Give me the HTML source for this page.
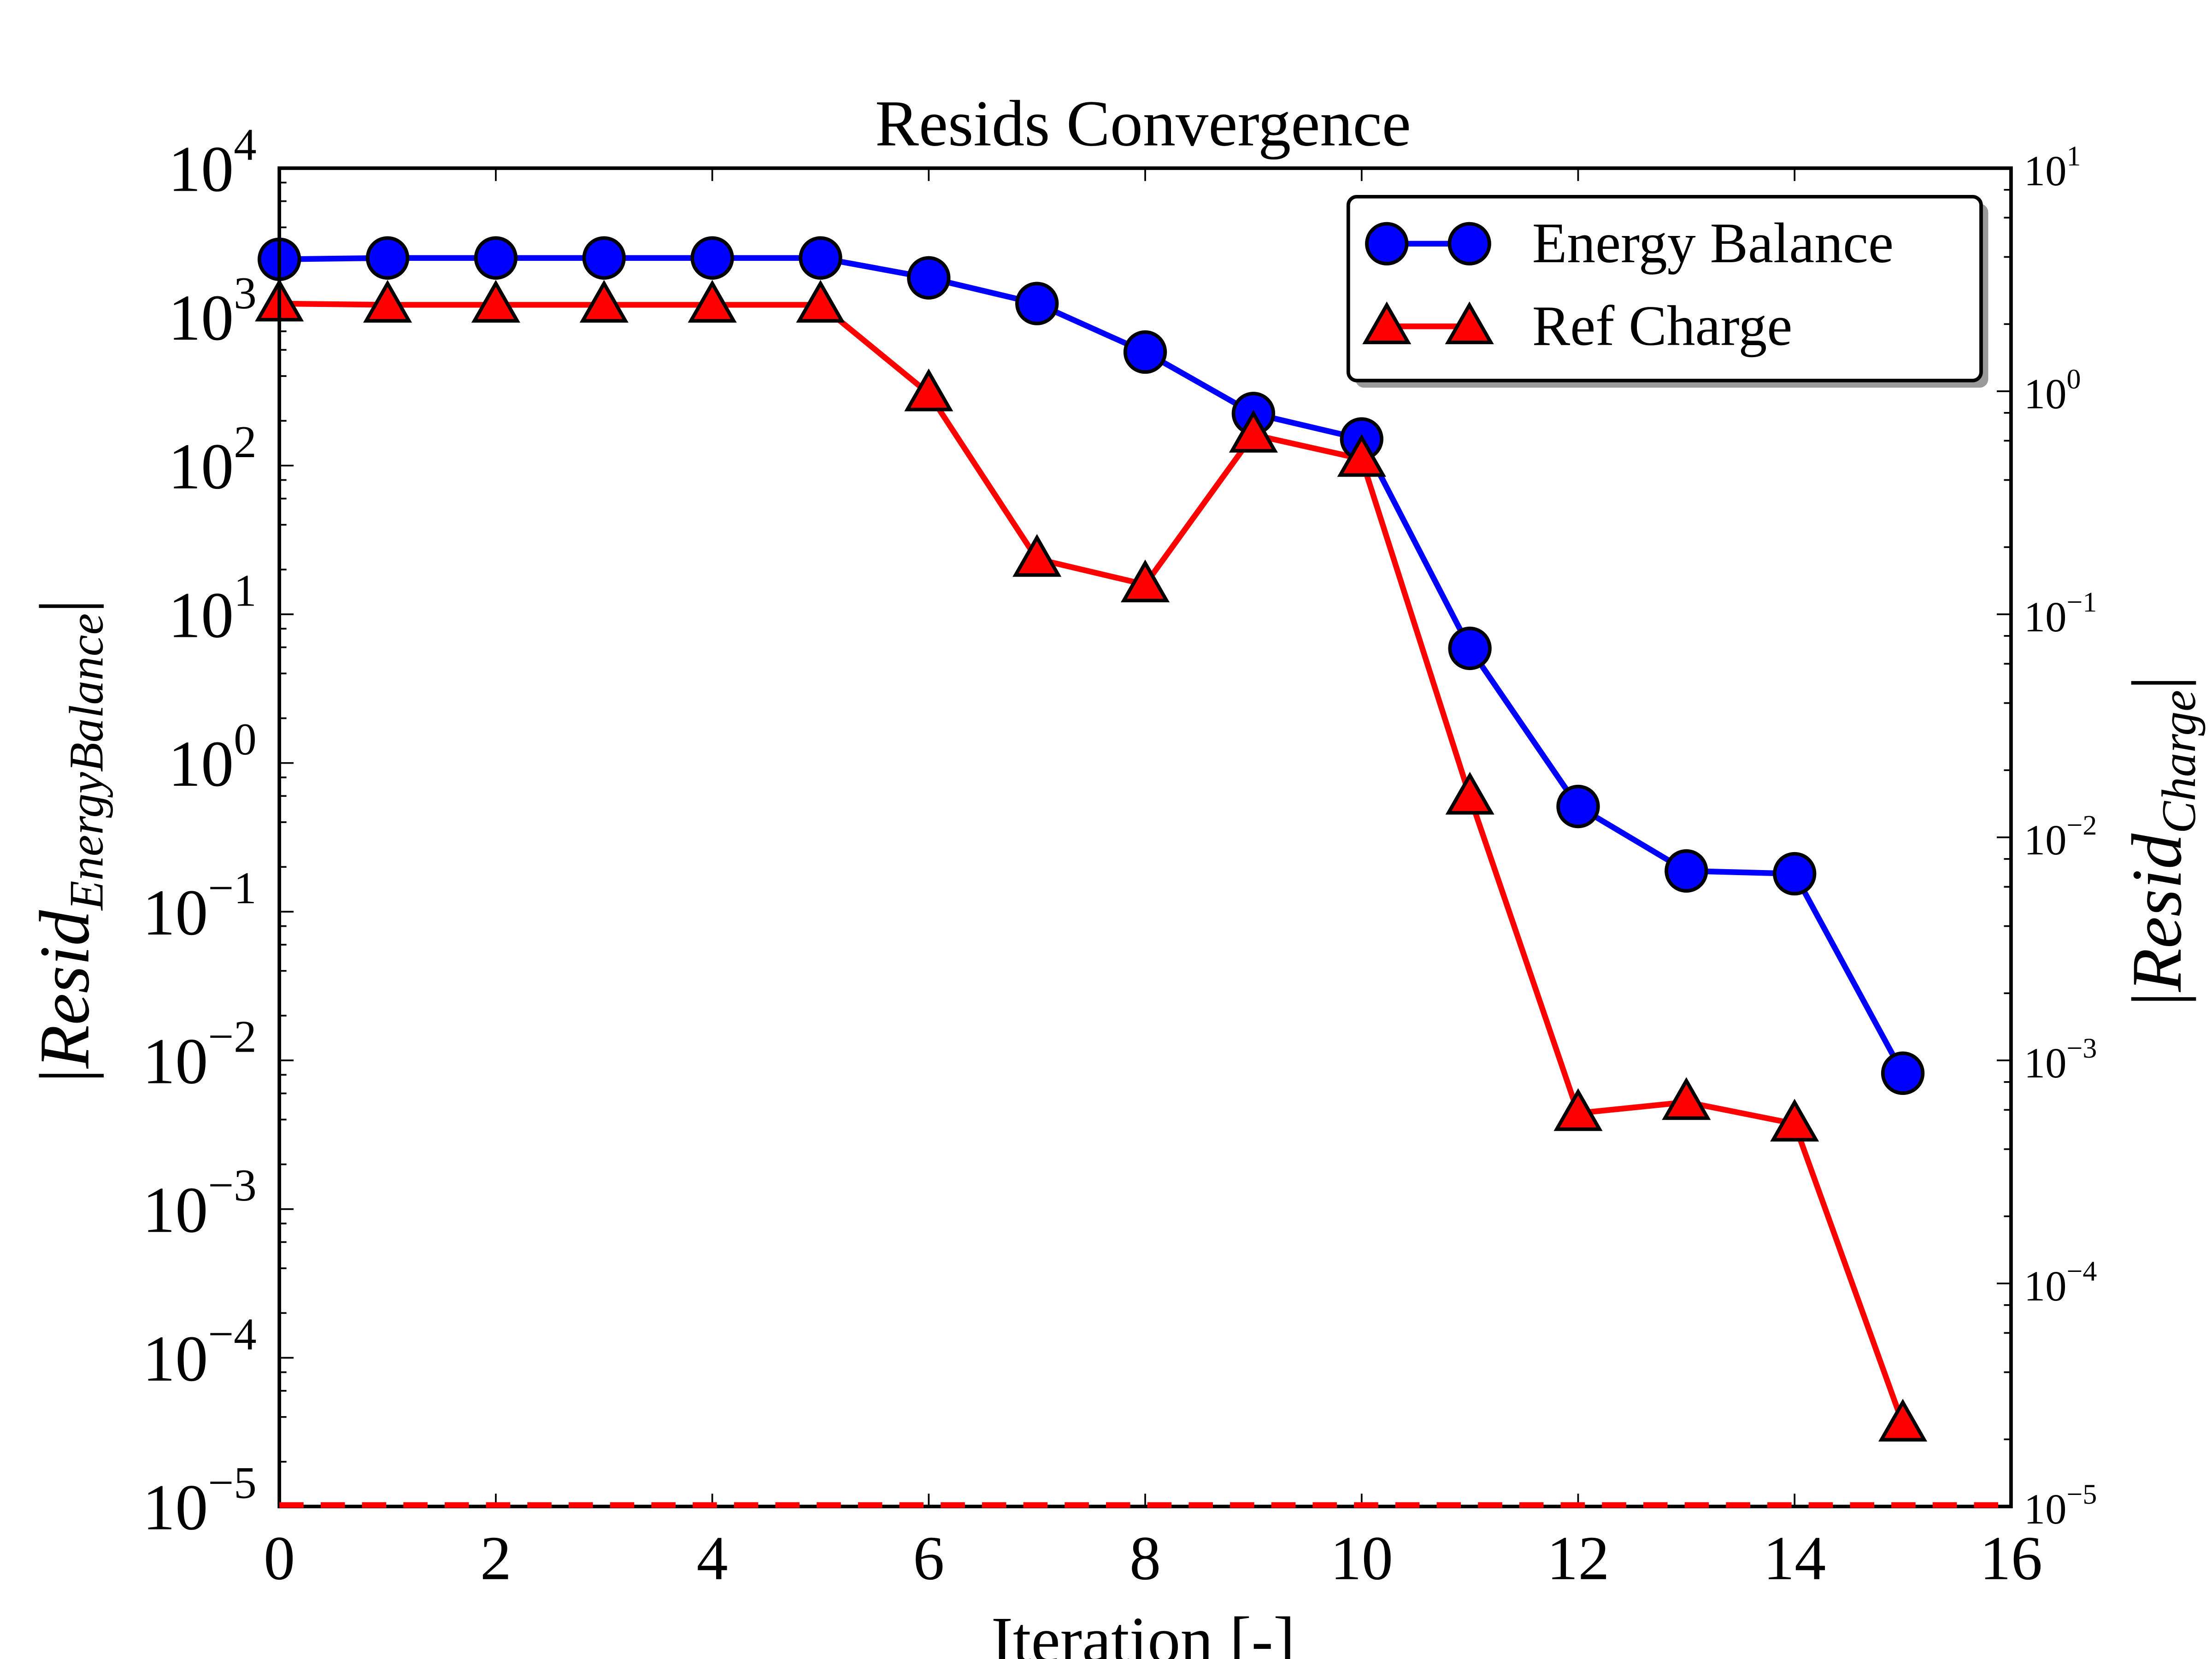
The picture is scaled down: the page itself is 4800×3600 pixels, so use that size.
<!DOCTYPE html>
<html><head><meta charset="utf-8"><style>
html,body{margin:0;padding:0;background:#fff;}
svg{display:block;}
text{font-family:"Liberation Serif",serif;fill:#000;}
</style></head><body>
<svg id="chart" width="4800" height="3600" viewBox="0 0 1552 1164" xmlns="http://www.w3.org/2000/svg">
<rect width="1552" height="1164" fill="#fff"/>
</svg>
<script>
const iterations=[0,1,2,3,4,5,6,7,8,9,10,11,12,13,14,15];
const energyBalance=[2440,2490,2490,2490,2490,2490,1830,1230,580,224,151,5.9,0.51,0.188,0.18,0.0082];
const refCharge=[2.47,2.44,2.44,2.44,2.44,2.44,0.977,0.177,0.136,0.638,0.497,0.0152,0.00058,0.00065,0.00052,0.0000235];
const xTicks=[0,2,4,6,8,10,12,14,16];
const leftExps=[4,3,2,1,0,-1,-2,-3,-4,-5];
const rightExps=[1,0,-1,-2,-3,-4,-5];
const refLine=[0.00001];

const NS='http://www.w3.org/2000/svg';
const svg=document.getElementById('chart');
const L=196,R=1411,T=118,B=1057;
const xS=v=>L+(v-0)/(16-0)*(R-L);
const yL=v=>T+(4-Math.log10(v))/9*(B-T);
const yR=v=>T+(1-Math.log10(v))/6*(B-T);
function mk(tag,attrs,parent){const e=document.createElementNS(NS,tag);for(const k in attrs)e.setAttribute(k,attrs[k]);(parent||svg).appendChild(e);return e;}

let t=mk('text',{x:802,y:102,'text-anchor':'middle','font-size':46});


t.textContent='Resids Convergence';

const tg=mk('g',{stroke:'#000','stroke-width':1.2});


xTicks.forEach(v=>{const x=xS(v);mk('line',{x1:x,y1:B,x2:x,y2:B-9},tg);mk('line',{x1:x,y1:T,x2:x,y2:T+9},tg);
 const lb=mk('text',{x:x,y:1108,'text-anchor':'middle','font-size':44,stroke:'none'});
 
 
 lb.textContent=String(v);});
const subs=[2,4,6,8];
leftExps.forEach(e=>{const y=yL(Math.pow(10,e));mk('line',{x1:L,y1:y,x2:L+10,y2:y},tg);
 if(e<4)subs.forEach(s=>{const yy=yL(s*Math.pow(10,e));mk('line',{x1:L,y1:yy,x2:L+5,y2:yy},tg);});
 const lb=mk('text',{x:180,y:y+16,'text-anchor':'end','font-size':46,stroke:'none'});
 
 
 lb.innerHTML='10<tspan dy="-22" font-size="32">'+(e<0?'\u2212'+(-e):e)+'</tspan>';});
rightExps.forEach(e=>{const y=yR(Math.pow(10,e));mk('line',{x1:R,y1:y,x2:R-10,y2:y},tg);
 if(e<1)subs.forEach(s=>{const yy=yR(s*Math.pow(10,e));mk('line',{x1:R,y1:yy,x2:R-5,y2:yy},tg);});
 const lb=mk('text',{x:1420,y:y+12,'font-size':30,stroke:'none'});
 
 
 lb.innerHTML='10<tspan dy="-14" font-size="20">'+(e<0?'\u2212'+(-e):e)+'</tspan>';});

const bp=mk('polyline',{points:iterations.map((x,i)=>xS(x)+','+yL(energyBalance[i])).join(' '),fill:'none',stroke:'#00f','stroke-width':4});


const rp=mk('polyline',{points:iterations.map((x,i)=>xS(x)+','+yR(refCharge[i])).join(' '),fill:'none',stroke:'#f00','stroke-width':4});


function tri(cx,cy,p,name){const s=15;const e=mk('polygon',{points:`${cx},${cy-s} ${cx-s},${cy+s*0.75} ${cx+s},${cy+s*0.75}`,fill:'#f00',stroke:'#000','stroke-width':2.5},p);
 
 }
iterations.forEach((x,i)=>{const c=mk('circle',{cx:xS(x),cy:yL(energyBalance[i]),r:14,fill:'#00f',stroke:'#000','stroke-width':2.5});
 
 });
iterations.forEach((x,i)=>tri(xS(x),yR(refCharge[i]),svg,'ref-charge-point'));

const fr=mk('rect',{x:L,y:T,width:R-L,height:B-T,fill:'none',stroke:'#000','stroke-width':2.5});



const rl=mk('line',{x1:L,x2:R,y1:yR(refLine[0])-1,y2:yR(refLine[0])-1,stroke:'#f00','stroke-width':4,'stroke-dasharray':'17 12'});



const lg=mk('g',{});


mk('rect',{x:951,y:143,width:444,height:129,rx:6,fill:'#999'},lg);
mk('rect',{x:946,y:138,width:444,height:129,rx:6,fill:'#fff',stroke:'#000','stroke-width':2.5},lg);
mk('line',{x1:973,x2:1031,y1:171,y2:171,stroke:'#00f','stroke-width':4},lg);
[973,1031].forEach(x=>mk('circle',{cx:x,cy:171,r:14,fill:'#00f',stroke:'#000','stroke-width':2.5},lg));
mk('line',{x1:973,x2:1031,y1:229,y2:229,stroke:'#f00','stroke-width':4},lg);
[973,1031].forEach(x=>tri(x,229,lg,'legend-triangle-marker'));
let l1=mk('text',{x:1075,y:184,'font-size':40},lg);


l1.textContent='Energy Balance';
let l2=mk('text',{x:1075,y:242,'font-size':40},lg);


l2.textContent='Ref Charge';

let xt=mk('text',{x:802,y:1166,'text-anchor':'middle','font-size':46});


xt.textContent='Iteration [-]';
let yt=mk('text',{x:0,y:0,'text-anchor':'middle','font-size':50,'font-style':'italic',transform:'translate(62,590) rotate(-90)'});


yt.innerHTML='<tspan font-style="normal">|</tspan>Resid<tspan font-size="34" dy="10">EnergyBalance</tspan><tspan font-style="normal" dy="-10">|</tspan>';
let yr=mk('text',{x:0,y:0,'text-anchor':'middle','font-size':50,'font-style':'italic',transform:'translate(1530,590) rotate(-90)'});


yr.innerHTML='<tspan font-style="normal">|</tspan>Resid<tspan font-size="34" dy="10">Charge</tspan><tspan font-style="normal" dy="-10">|</tspan>';
</script>
</body></html>
